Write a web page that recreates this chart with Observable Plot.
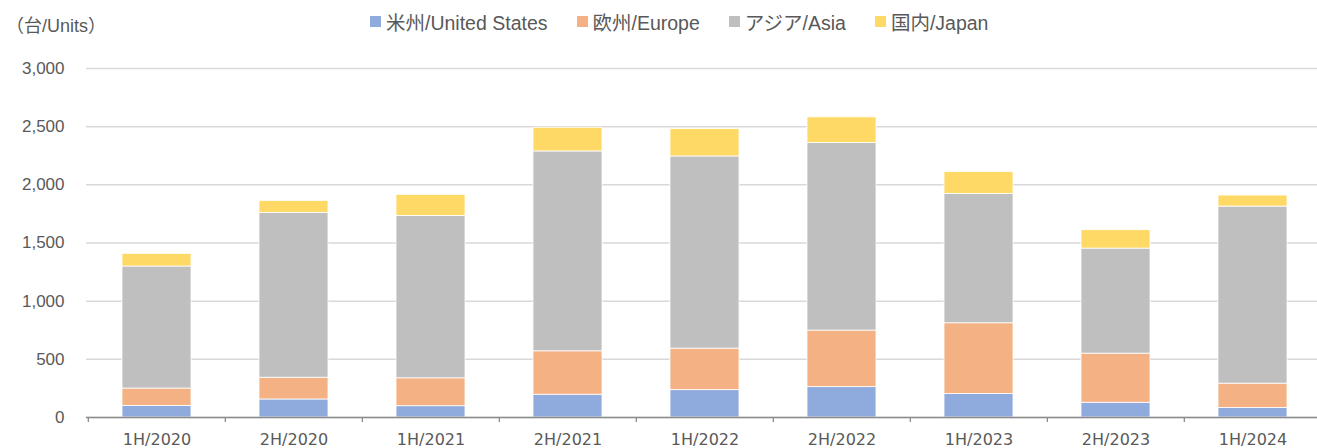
<!DOCTYPE html>
<html><head><meta charset="utf-8">
<script src="https://cdn.jsdelivr.net/npm/d3@7"></script>
<script src="https://cdn.jsdelivr.net/npm/@observablehq/plot@0.6"></script>
<style>
body{margin:0;background:#fff;overflow:hidden}
#wrap{position:relative;width:1317px;height:448px;font-family:"Liberation Sans","Noto Sans CJK JP",sans-serif;color:#595959}
#head{position:relative;height:50px}
#unit{position:absolute;left:6px;top:11px;font-size:18px;white-space:nowrap}
#legend{position:absolute;left:370px;top:7px;display:flex;gap:29px;font-size:19.5px;white-space:nowrap}
#legend .item{display:flex;align-items:center}
#legend .sw{width:11px;height:11px;margin-right:5px}
</style></head><body>
<div id="wrap"><div id="head"><div id="unit"></div><div id="legend"></div></div><div id="chart"></div></div>
<script>
const periods = ["1H/2020","2H/2020","1H/2021","2H/2021","1H/2022","2H/2022","1H/2023","2H/2023","1H/2024"];
const seriesNames = ["米州/United States","欧州/Europe","アジア/Asia","国内/Japan"];
const usValues     = [100, 155, 97, 196, 235, 261, 202, 127, 82];
const europeValues = [149, 187, 240, 373, 357, 486, 608, 422, 209];
const asiaValues   = [1049, 1417, 1396, 1718, 1652, 1612, 1112, 903, 1522];
const japanValues  = [109, 103, 181, 204, 236, 221, 189, 158, 95];
const seriesColors = ["#8FAADC","#F4B183","#BFBFBF","#FFD966"];
const yTicks = [0, 500, 1000, 1500, 2000, 2500, 3000];
const unitLabel = "（台/Units）";

const seriesValues = [usValues, europeValues, asiaValues, japanValues];
const rows = [];
periods.forEach((p, i) => {
  seriesNames.forEach((s, j) => rows.push({period: p, region: s, value: seriesValues[j][i]}));
});

document.getElementById("unit").textContent = unitLabel;
const legend = document.getElementById("legend");
seriesNames.forEach((s, j) => {
  const it = document.createElement("div"); it.className = "item";
  const sw = document.createElement("div"); sw.className = "sw"; sw.style.background = seriesColors[j];
  const tx = document.createElement("span"); tx.textContent = s;
  it.appendChild(sw); it.appendChild(tx); legend.appendChild(it);
});

const W = 1317, mL = 86, mR = -5;
const step = (W - mL - mR) / periods.length;

const chart = Plot.plot({
  width: W, height: 398,
  marginLeft: mL, marginRight: mR, marginTop: 18, marginBottom: 31,
  style: {fontFamily: "Liberation Sans, sans-serif", color: "#595959", background: "white"},
  x: {domain: periods, paddingInner: 0.5, paddingOuter: 0.25, axis: null, label: null},
  y: {domain: [0, 3000], axis: null, label: null},
  color: {domain: seriesNames, range: seriesColors},
  marks: [
    Plot.gridY(yTicks, {stroke: "#d9d9d9", strokeOpacity: 1, strokeWidth: 1.5}),
    Plot.barY(rows, {x: "period", y: "value", fill: "region", stroke: "white", strokeWidth: 0.8}),
    Plot.ruleY([0], {stroke: "#8c8c8c", strokeWidth: 1.5}),
    Plot.axisX({tickSize: 5, tickFormat: () => "", label: null, dx: -step / 2, stroke: "#8c8c8c", strokeWidth: 1.3}),
    Plot.axisX({tickSize: 0, tickPadding: 16, label: null, fontSize: 16, fontFamily: "DejaVu Sans", fill: "#595959"}),
    Plot.axisY(yTicks, {tickSize: 0, tickPadding: 22, label: null, tickFormat: d3.format(","), fontSize: 17, fill: "#595959"})
  ]
});
document.getElementById("chart").appendChild(chart);
</script>
</body></html>
